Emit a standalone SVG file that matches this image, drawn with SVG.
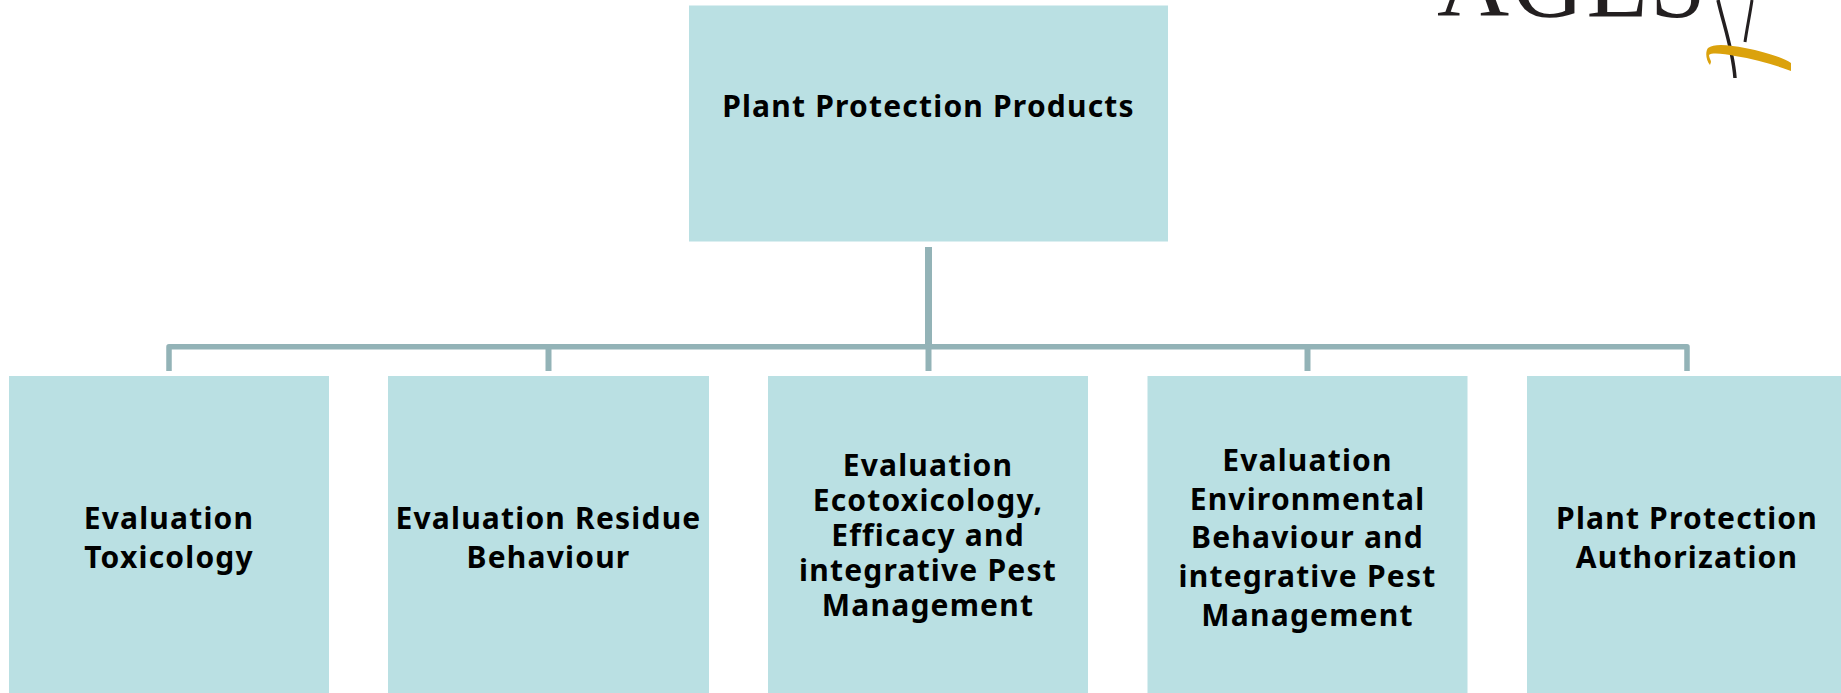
<svg xmlns="http://www.w3.org/2000/svg" width="1841" height="693" viewBox="0 0 1841 693">
<style>
.box{fill:#bae0e3}
.t{font-family:"Noto Sans","Liberation Sans",sans-serif;font-weight:700;font-size:30px;fill:#000;text-anchor:middle;letter-spacing:1.2px}
.c{fill:none;stroke:#93b3b7;stroke-linejoin:round}
</style>
<rect width="1841" height="693" fill="#fff"/>
<g id="logo">
<text x="1437" y="16" font-family="Liberation Serif,serif" font-size="100" fill="#231f20" letter-spacing="2.500">AGES</text>
<path d="M1718 0C1724 26 1733 50 1735 78" fill="none" stroke="#231f20" stroke-width="3.500"/>
<path d="M1752 0C1750 14 1747 28 1745 42" fill="none" stroke="#231f20" stroke-width="3"/>
<path d="M1710 65C1706 60 1705 52 1708 48C1714 43 1730 45 1745 48C1765 52 1782 57 1791 63L1791 71C1775 65 1755 59 1735 56C1725 54 1712 52 1709 55C1709 58 1711 60 1711 62Z" fill="#dba20c"/>
</g>
<g id="connectors">
<path class="c" stroke-width="7" d="M928.500 247V346.500"/>
<path class="c" stroke-width="5.500" d="M169 371V346.700H1687V371"/>
<path class="c" stroke-width="6" d="M548.500 346.700V371M928.500 346.700V371M1307.500 346.700V371"/>
</g>
<g id="n0"><rect class="box" x="689" y="5.500" width="479" height="236"/><text class="t" x="928.500" y="117">Plant Protection Products</text></g>
<g id="n1"><rect class="box" x="9" y="376" width="320" height="317"/><text class="t" x="169" y="529">Evaluation</text><text class="t" x="169" y="568">Toxicology</text></g>
<g id="n2"><rect class="box" x="388" y="376" width="321" height="317"/><text class="t" x="548.500" y="529">Evaluation Residue</text><text class="t" x="548.500" y="568">Behaviour</text></g>
<g id="n3"><rect class="box" x="768" y="376" width="320" height="317"/><text class="t" x="928" y="476">Evaluation</text><text class="t" x="928" y="511">Ecotoxicology,</text><text class="t" x="928" y="546">Efficacy and</text><text class="t" x="928" y="581">integrative Pest</text><text class="t" x="928" y="616">Management</text></g>
<g id="n4"><rect class="box" x="1147.500" y="376" width="320" height="317"/><text class="t" x="1307.500" y="471">Evaluation</text><text class="t" x="1307.500" y="510">Environmental</text><text class="t" x="1307.500" y="548">Behaviour and</text><text class="t" x="1307.500" y="587">integrative Pest</text><text class="t" x="1307.500" y="626">Management</text></g>
<g id="n5"><rect class="box" x="1527" y="376" width="314" height="317"/><text class="t" x="1687" y="529">Plant Protection</text><text class="t" x="1687" y="568">Authorization</text></g>
</svg>
